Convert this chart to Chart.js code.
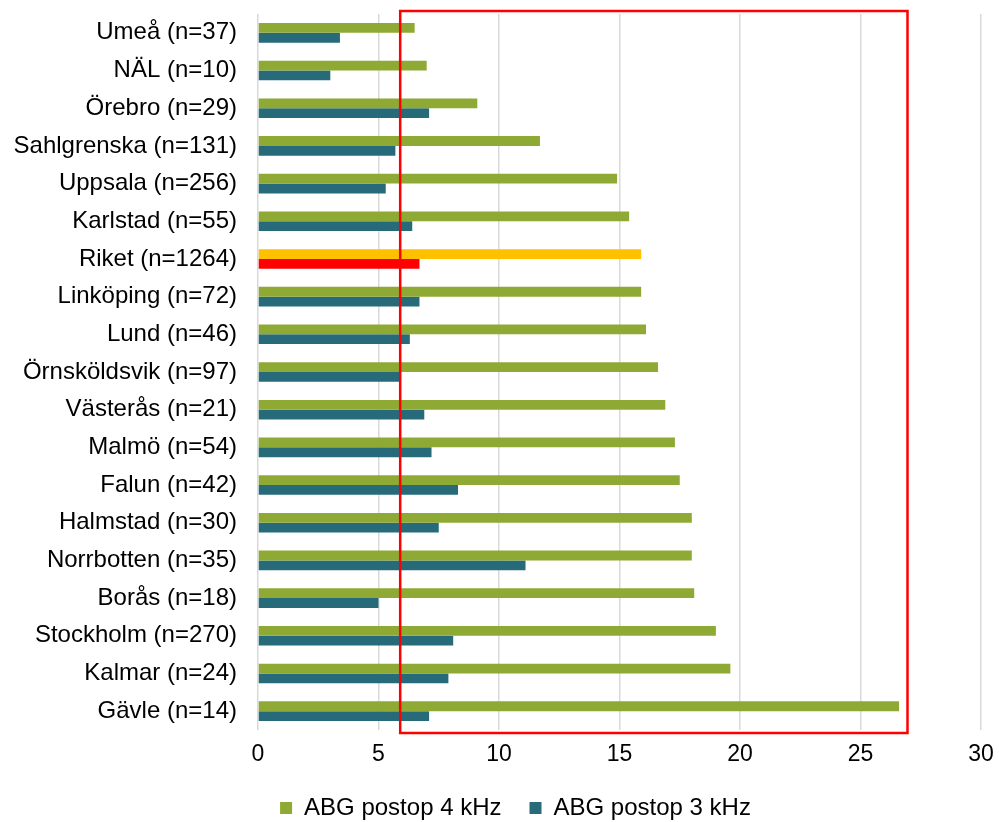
<!DOCTYPE html>
<html>
<head>
<meta charset="utf-8">
<script src="https://cdn.jsdelivr.net/npm/chart.js@4.4.1/dist/chart.umd.min.js"></script>
<style>
  html, body { margin: 0; padding: 0; background: #fff; }
  #wrap { width: 999px; height: 822px; position: relative; }
</style>
</head>
<body>
<div id="wrap"><canvas id="chart"></canvas></div>
<script>
// --- DATA ---
const categories = [
    'Umeå (n=37)', 'NÄL (n=10)', 'Örebro (n=29)', 'Sahlgrenska (n=131)', 'Uppsala (n=256)',
    'Karlstad (n=55)', 'Riket (n=1264)', 'Linköping (n=72)', 'Lund (n=46)', 'Örnsköldsvik (n=97)',
    'Västerås (n=21)', 'Malmö (n=54)', 'Falun (n=42)', 'Halmstad (n=30)', 'Norrbotten (n=35)',
    'Borås (n=18)', 'Stockholm (n=270)', 'Kalmar (n=24)', 'Gävle (n=14)'
];
const abg4k = [6.5, 7.0, 9.1, 11.7, 14.9, 15.4, 15.9, 15.9, 16.1, 16.6, 16.9, 17.3, 17.5, 18.0, 18.0, 18.1, 19.0, 19.6, 26.6];
const abg3k = [3.4, 3.0, 7.1, 5.7, 5.3, 6.4, 6.7, 6.7, 6.3, 5.9, 6.9, 7.2, 8.3, 7.5, 11.1, 5.0, 8.1, 7.9, 7.1];
const xTicks = [0, 5, 10, 15, 20, 25, 30];
const highlightRange = [5.9, 26.95]; // red frame, in axis units

const GREEN = '#8FAA34', TEAL = '#276B7B', ORANGE = '#FFC000', RED = '#FF0000';
const FONT = "'Liberation Sans', Arial, sans-serif";
const isRiket = categories.map(c => c.startsWith('Riket'));

const framePlugin = {
    id: 'frame',
    beforeLayout(chart) {
        // legend: wide gap between items but a short box
        const lg = chart.legend;
        if (lg && !lg._fitPatched) {
            const fit = lg.fit.bind(lg);
            lg.fit = function () { fit(); this.height = 54; };
            lg._fitPatched = true;
        }
    },
    afterLayout(chart) {
        // nudge the legend to the right, like the original
        chart.legend.left += 25;
        chart.legend.right += 25;
    },
    afterDraw(chart) {
        // red frame on top of the plot
        const { ctx, chartArea, scales: { x } } = chart;
        const left = x.getPixelForValue(highlightRange[0]);
        const right = x.getPixelForValue(highlightRange[1]);
        ctx.save();
        ctx.strokeStyle = RED;
        ctx.lineWidth = 2.5;
        ctx.strokeRect(left, chartArea.top - 3, right - left, chartArea.bottom - chartArea.top + 6);
        ctx.restore();
    }
};

new Chart(document.getElementById('chart'), {
    type: 'bar',
    data: {
        labels: categories,
        datasets: [
            { label: 'ABG postop 4 kHz', data: abg4k, backgroundColor: isRiket.map(r => r ? ORANGE : GREEN) },
            { label: 'ABG postop 3 kHz', data: abg3k, backgroundColor: isRiket.map(r => r ? RED : TEAL) }
        ]
    },
    options: {
        indexAxis: 'y',
        responsive: true,
        maintainAspectRatio: false,
        animation: false,
        datasets: { bar: { categoryPercentage: 0.52, barPercentage: 1.0, borderWidth: 0 } },
        layout: { padding: { top: 14, right: 18, bottom: 0, left: 0 } },
        plugins: {
            tooltip: { enabled: false },
            legend: {
                position: 'bottom',
                labels: {
                    color: '#000', font: { family: FONT, size: 24 },
                    boxWidth: 12, boxHeight: 12, padding: 28,
                    generateLabels: (chart) => chart.data.datasets.map((ds, i) => ({
                        text: ds.label, fillStyle: i === 0 ? GREEN : TEAL,
                        strokeStyle: 'transparent', lineWidth: 0, datasetIndex: i
                    }))
                }
            }
        },
        scales: {
            x: {
                min: 0, max: 30,
                afterBuildTicks: (scale) => { scale.ticks = xTicks.map(v => ({ value: v })); },
                afterFit: (scale) => { scale.height = 38; scale.paddingLeft = 0; scale.paddingRight = 0; },
                ticks: { color: '#000', font: { family: FONT, size: 23 }, padding: 11, maxRotation: 0 },
                grid: { color: '#D9D9D9', lineWidth: 1.5, drawTicks: false },
                border: { display: false }
            },
            y: {
                afterFit: (scale) => { scale.width = 258; scale.paddingTop = 0; scale.paddingBottom = 0; },
                ticks: { color: '#000', font: { family: FONT, size: 24 }, padding: 21, autoSkip: false },
                grid: { display: false, drawTicks: false },
                border: { display: false }
            }
        }
    },
    plugins: [framePlugin]
});
</script>
</body>
</html>
